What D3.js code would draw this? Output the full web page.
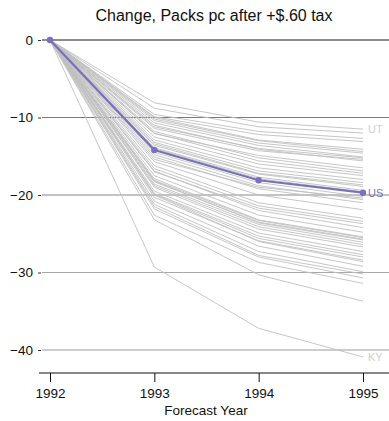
<!DOCTYPE html>
<html>
<head>
<meta charset="utf-8">
<script src="https://cdn.jsdelivr.net/npm/d3@7"></script>
<style>
  body { margin: 0; background: #fff; }
  svg text { font-family: "Liberation Sans", Arial, Helvetica, sans-serif; }
</style>
</head>
<body>
<svg id="chart" width="389" height="421"></svg>
<script>
const years = [1992, 1993, 1994, 1995];
const yTicks = [0, -10, -20, -30, -40];
const title = "Change, Packs pc after +$.60 tax";
const xTitle = "Forecast Year";

// change in packs per capita for each state (1992 baseline = 0)
const stateNames = ["UT","s02","s03","s04","s05","s06","s07","s08","s09","s10",
  "s11","s12","s13","s14","s15","s16","s17","s18","s19","s20",
  "s21","s22","s23","s24","s25","s26","s27","s28","s29","s30",
  "s31","s32","s33","s34","s35","s36","s37","s38","s39","s40",
  "s41","s42","s43","s44","s45","s46","s47","s48","s49","KY"];
const stateValues = [
  [0, -8.1, -10.6, -11.5],
  [0, -8.8, -11.2, -12.0],
  [0, -9.6, -11.8, -12.7],
  [0, -9.9, -12.2, -13.1],
  [0, -10.2, -13.0, -14.4],
  [0, -10.4, -13.3, -14.6],
  [0, -10.7, -13.6, -15.1],
  [0, -11.0, -14.1, -15.6],
  [0, -11.4, -14.3, -15.4],
  [0, -11.8, -15.2, -16.9],
  [0, -12.1, -14.9, -16.5],
  [0, -12.9, -16.5, -18.0],
  [0, -13.2, -16.9, -18.4],
  [0, -13.6, -17.3, -18.9],
  [0, -13.9, -17.7, -19.4],
  [0, -14.0, -17.9, -19.6],
  [0, -14.5, -18.4, -20.2],
  [0, -14.8, -18.8, -20.6],
  [0, -15.1, -19.2, -21.0],
  [0, -15.4, -19.0, -20.4],
  [0, -16.2, -21.0, -23.0],
  [0, -16.6, -21.4, -23.4],
  [0, -17.0, -21.7, -23.7],
  [0, -17.9, -23.2, -25.4],
  [0, -18.1, -23.3, -25.5],
  [0, -18.3, -23.5, -25.7],
  [0, -18.2, -23.6, -25.8],
  [0, -18.6, -23.8, -26.1],
  [0, -19.0, -24.4, -26.7],
  [0, -19.5, -24.9, -27.3],
  [0, -19.8, -25.3, -27.7],
  [0, -20.3, -25.9, -28.4],
  [0, -20.0, -26.0, -28.6],
  [0, -21.2, -27.3, -29.9],
  [0, -21.8, -28.0, -30.7],
  [0, -22.6, -28.7, -31.4],
  [0, -23.2, -30.3, -33.7],
  [0, -15.7, -20.0, -21.9],
  [0, -12.5, -16.0, -17.5],
  [0, -16.9, -22.0, -24.2],
  [0, -10.0, -12.9, -14.1],
  [0, -18.8, -24.1, -26.4],
  [0, -12.0, -15.6, -17.2],
  [0, -21.5, -27.8, -30.2],
  [0, -13.4, -17.2, -18.7],
  [0, -17.5, -22.6, -24.8],
  [0, -11.2, -14.0, -15.2],
  [0, -19.9, -25.6, -28.0],
  [0, -20.8, -26.6, -29.2],
  [0, -29.3, -37.2, -40.9]
];
const usValues = [0, -14.2, -18.1, -19.7];
const labeled = ["UT", "KY"];

const svg = d3.select("#chart");
const x = d3.scaleLinear().domain([1992, 1995]).range([50, 363]);
const y = d3.scaleLinear().domain([0, -40]).range([40, 350]);

const gridColors = {"0": "#1a1a1a", "-10": "#7a7a7a", "-20": "#888", "-30": "#a8a8a8", "-40": "#bdbdbd"};

// title
svg.append("text").attr("x", 214).attr("y", 21).attr("text-anchor", "middle")
  .attr("font-size", 16).attr("fill", "#111").text(title);

// gridlines
svg.append("g").selectAll("line").data(yTicks).join("line")
  .attr("x1", 42).attr("x2", 389)
  .attr("y1", d => y(d)).attr("y2", d => y(d))
  .attr("stroke", d => gridColors[String(d)]).attr("stroke-width", d => d === -40 ? 1.6 : 1.1);

// y axis ticks + labels
const yAxis = d3.axisLeft(y).tickValues(yTicks).tickSize(3).tickPadding(5)
  .tickFormat(d => d === 0 ? "0" : "\u2212" + Math.abs(d));
const gy = svg.append("g").attr("transform", "translate(41,0)").call(yAxis);
gy.select(".domain").remove();
gy.selectAll(".tick line").attr("stroke", "#333");
gy.selectAll(".tick text").attr("font-size", 13.5).attr("fill", "#111")
  .style("font-family", '"Liberation Sans", Arial, sans-serif');

// state lines
const line = d3.line().x((d, i) => x(years[i])).y(d => y(d));
svg.append("g").selectAll("path").data(stateValues).join("path")
  .attr("d", line).attr("fill", "none").attr("stroke", "#c0c0c0").attr("stroke-width", 0.9);

// labels UT, KY
stateNames.forEach((n, i) => {
  if (labeled.includes(n)) {
    svg.append("text").attr("x", x(1995) + 5).attr("y", y(stateValues[i][3]) + 4)
      .attr("font-size", 11).attr("fill", "#cfcfcf").text(n);
  }
});

// US line
svg.append("path").datum(usValues).attr("d", line).attr("fill", "none")
  .attr("stroke", "#7872ba").attr("stroke-width", 2.2);
svg.append("g").selectAll("circle").data(usValues).join("circle")
  .attr("cx", (d, i) => x(years[i])).attr("cy", d => y(d)).attr("r", 3.2).attr("fill", "#7872ba");
svg.append("text").attr("x", x(1995) + 5).attr("y", y(usValues[3]) + 4)
  .attr("font-size", 11).attr("fill", "#7872ba").text("US");

// x axis
const xAxis = d3.axisBottom(x).tickValues(years).tickFormat(d3.format("d")).tickSize(9).tickPadding(6).tickSizeOuter(0);
const gx = svg.append("g").attr("transform", "translate(0,373)").call(xAxis);
gx.select(".domain").attr("d", "M39,0H389").attr("stroke", "#111");
gx.selectAll(".tick line").attr("stroke", "#111");
gx.selectAll(".tick text").attr("font-size", 13.5).attr("fill", "#111")
  .style("font-family", '"Liberation Sans", Arial, sans-serif');

svg.append("text").attr("x", 206).attr("y", 415).attr("text-anchor", "middle")
  .attr("font-size", 13.5).attr("fill", "#111").text(xTitle);
</script>
</body>
</html>
